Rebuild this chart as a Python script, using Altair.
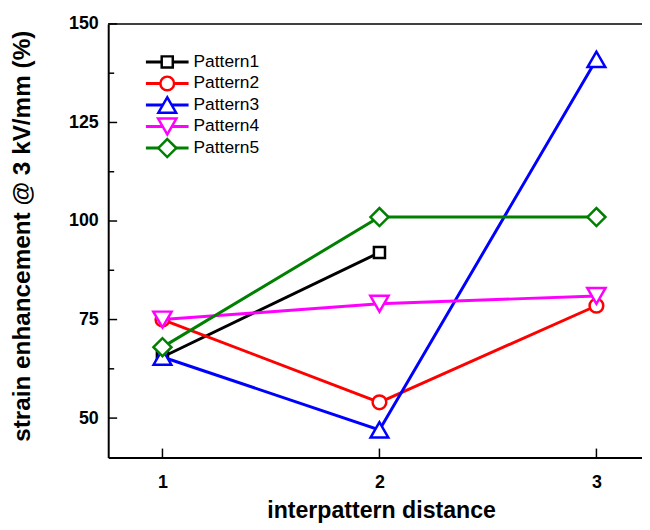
import altair as alt
import pandas as pd

# ---- data ----
series = ["Pattern1", "Pattern2", "Pattern3", "Pattern4", "Pattern5"]
colors = ["#000000", "#FF0000", "#0000FF", "#FF00FF", "#008000"]
shapes = ["square", "circle", "triangle-up", "triangle-down", "diamond"]
distance = [1, 2, 3]
pattern1 = [65.5, 92]
pattern2 = [75, 54, 78.5]
pattern3 = [65.5, 47, 141]
pattern4 = [75, 79, 81]
pattern5 = [68, 101, 101]
values = [pattern1, pattern2, pattern3, pattern4, pattern5]
x_ticks = [1, 2, 3]
y_major = [50, 75, 100, 125, 150]
y_minor = [62.5, 87.5, 112.5, 137.5]

# ---- styling ----
sizes = [125, 190, 320, 340, 330]
FONT = "Liberation Sans"
W, H = 538, 437

rows = []
for s, vals in zip(series, values):
    for d, v in zip(distance, vals):
        rows.append({"series": s, "distance": d, "value": v})
df = pd.DataFrame(rows)
one = pd.DataFrame({"k": [0]})

xs = alt.Scale(domain=[0.75, 3.21], nice=False, zero=False)
ys = alt.Scale(domain=[40, 150], nice=False, zero=False)

xenc = alt.X(
    "distance:Q", scale=xs,
    axis=alt.Axis(
        values=x_ticks, ticks=False, grid=False, domain=True,
        domainColor="black", domainWidth=2, format="d",
        labelFont=FONT, labelFontSize=18, labelFontWeight="bold", labelColor="black",
        labelPadding=16,
        title="interpattern distance", titleFont=FONT, titleFontSize=23.3,
        titleFontWeight="bold", titleColor="black",
        titleBaseline="alphabetic", titleX=275, titleY=60.5,
    ),
)
yenc = alt.Y(
    "value:Q", scale=ys,
    axis=alt.Axis(
        values=y_major, ticks=False, grid=False, domain=True,
        domainColor="black", domainWidth=2,
        labelFont=FONT, labelFontSize=18, labelFontWeight="bold", labelColor="black",
        labelPadding=10,
        title="strain enhancement @ 3 kV/mm (%)", titleFont=FONT, titleFontSize=24.5,
        titleFontWeight="bold", titleColor="black",
        titleBaseline="alphabetic", titleAngle=270, titleX=-79.5, titleY=213.5,
    ),
)

layers = []

# frame top line
layers.append(
    alt.Chart(one).mark_rule(color="black", strokeWidth=1.5)
    .encode(x=alt.value(0), x2=alt.value(W), y=alt.value(0))
)

# inward ticks
ymaj = pd.DataFrame({"value": y_major})
ymin = pd.DataFrame({"value": y_minor})
xt = pd.DataFrame({"distance": x_ticks})
layers.append(
    alt.Chart(ymaj).mark_rule(color="black", strokeWidth=1.5)
    .encode(y=yenc, x=alt.value(0), x2=alt.value(9))
)
layers.append(
    alt.Chart(ymin).mark_rule(color="black", strokeWidth=1.5)
    .encode(y=yenc, x=alt.value(0), x2=alt.value(6))
)
layers.append(
    alt.Chart(xt).mark_rule(color="black", strokeWidth=1.5)
    .encode(x=xenc, y=alt.value(H), y2=alt.value(H - 9))
)

base = alt.Chart(df)
for i, s in enumerate(series):
    sub = base.transform_filter(alt.datum.series == s)
    layers.append(
        sub.mark_line(color=colors[i], strokeWidth=3).encode(x=xenc, y=yenc)
    )
    layers.append(
        sub.mark_point(shape=shapes[i], size=sizes[i], filled=True, fill="white",
                       stroke=colors[i], strokeWidth=2.5, opacity=1)
        .encode(x=xenc, y=yenc)
    )

# legend
LX0, LX1, LXC, LXT, LY0, LDY = 38, 81, 59.5, 86, 38.3, 21.7
for i, s in enumerate(series):
    ly = LY0 + i * LDY
    layers.append(
        alt.Chart(one).mark_rule(color=colors[i], strokeWidth=3)
        .encode(x=alt.value(LX0), x2=alt.value(LX1), y=alt.value(ly))
    )
    layers.append(
        alt.Chart(one).mark_point(shape=shapes[i], size=sizes[i], filled=True, fill="white",
                                  stroke=colors[i], strokeWidth=2.5, opacity=1)
        .encode(x=alt.value(LXC), y=alt.value(ly))
    )
    layers.append(
        alt.Chart(one).mark_text(text=s, align="left", baseline="middle", font=FONT,
                                 fontSize=17.5, color="black")
        .encode(x=alt.value(LXT), y=alt.value(ly))
    )

chart = (
    alt.layer(*layers)
    .properties(width=W, height=H, autosize="none",
                padding={"left": 101, "top": 14, "right": 0, "bottom": 70})
    .configure_view(stroke=None)
)

chart.save("out.html", embed_options={"renderer": "svg", "actions": False})
